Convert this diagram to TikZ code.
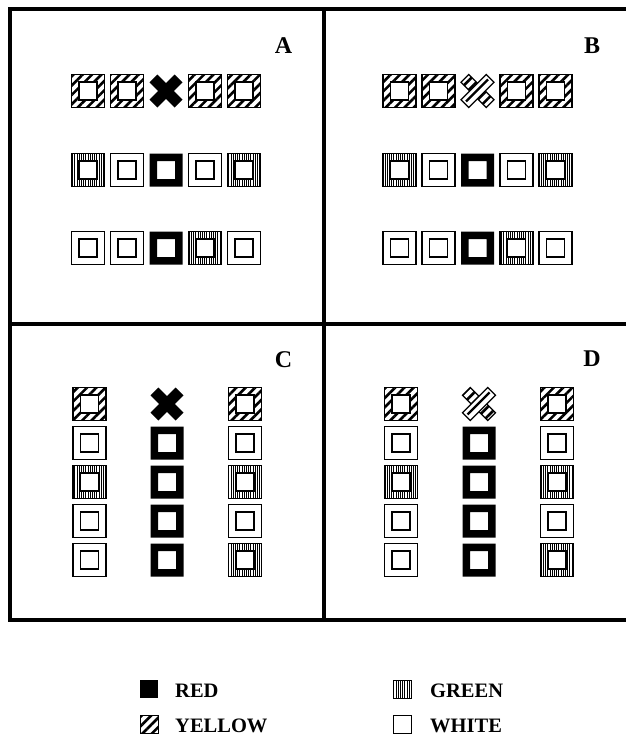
\documentclass[tikz,border=0pt]{standalone}
\usepackage{fontspec}
\setmainfont{Liberation Serif}
\usetikzlibrary{patterns.meta}
\tikzset{
  edge/.style={line width=1.2pt},
  frame/.style={line width=4pt},
  yhatch/.style={pattern={Lines[angle=45,distance=6.6pt,line width=2.6pt]}},
  ghatch/.style={pattern={Lines[angle=90,distance=2.2pt,line width=0.8pt]}},
  panellabel/.style={font=\bfseries\fontsize{24}{24}\selectfont, anchor=base, inner sep=0pt},
  legendtext/.style={font=\bfseries\fontsize{20.5}{20.5}\selectfont, anchor=base west, inner sep=0pt},
  ysq/.pic={
    \path[yhatch,even odd rule] (-16.5,-16.5) rectangle (16.5,16.5) (-9,-9) rectangle (9,9);
    \draw[edge] (-16.5,-16.5) rectangle (16.5,16.5) (-9,-9) rectangle (9,9);},
  gsq/.pic={
    \path[ghatch,even odd rule] (-16.5,-16.5) rectangle (16.5,16.5) (-9,-9) rectangle (9,9);
    \draw[edge] (-16.5,-16.5) rectangle (16.5,16.5) (-9,-9) rectangle (9,9);},
  wsq/.pic={
    \draw[edge] (-16.5,-16.5) rectangle (16.5,16.5) (-9,-9) rectangle (9,9);},
  rsq/.pic={
    \fill[even odd rule] (-16.5,-16.5) rectangle (16.5,16.5) (-9,-9) rectangle (9,9);},
  rx/.pic={
    \fill (-8.7,-16.5) -- (16.5,8.7) -- (8.7,16.5) -- (-16.5,-8.7) -- cycle;
    \fill (8.7,-16.5) -- (16.5,-8.7) -- (-8.7,16.5) -- (-16.5,8.7) -- cycle;},
  yx/.pic={
    \path[yhatch] (-8.7,-16.5) -- (16.5,8.7) -- (8.7,16.5) -- (-16.5,-8.7) -- cycle;
    \draw[edge] (-8.7,-16.5) -- (16.5,8.7) -- (8.7,16.5) -- (-16.5,-8.7) -- cycle;
    \filldraw[edge,fill=white] (8.7,-16.5) -- (16.5,-8.7) -- (-8.7,16.5) -- (-16.5,8.7) -- cycle;
    \draw[line width=2.2pt] (-11.5,10.5) -- (10.5,-11.5);},
}
\begin{document}
\begin{tikzpicture}[x=1pt,y=-1pt]
\useasboundingbox (0,0) rectangle (625,736);
\fill[white] (0,0) rectangle (625,736);

% frame
\draw[frame] (10,9) rectangle (634,620);
\draw[frame] (324,9) -- (324,620);
\draw[frame] (10,324) -- (634,324);

% panel labels
\node[panellabel] (la) at (283.5,53) {A};
\node[panellabel] (lb) at (592,53) {B};
\node[panellabel] (lc) at (283.5,367) {C};
\node[panellabel] (ld) at (592,366) {D};

% Panel A
\pic at (88,91) {ysq};  \pic at (127,91) {ysq};  \pic at (166,91) {rx};
\pic at (205,91) {ysq}; \pic at (244,91) {ysq};
\pic at (88,170) {gsq}; \pic at (127,170) {wsq}; \pic at (166,170) {rsq};
\pic at (205,170) {wsq}; \pic at (244,170) {gsq};
\pic at (88,248) {wsq}; \pic at (127,248) {wsq}; \pic at (166,248) {rsq};
\pic at (205,248) {gsq}; \pic at (244,248) {wsq};

% Panel B
\pic at (399.5,91) {ysq}; \pic at (438.5,91) {ysq}; \pic at (477.5,91) {yx};
\pic at (516.5,91) {ysq}; \pic at (555.5,91) {ysq};
\pic at (399.5,170) {gsq}; \pic at (438.5,170) {wsq}; \pic at (477.5,170) {rsq};
\pic at (516.5,170) {wsq}; \pic at (555.5,170) {gsq};
\pic at (399.5,248) {wsq}; \pic at (438.5,248) {wsq}; \pic at (477.5,248) {rsq};
\pic at (516.5,248) {gsq}; \pic at (555.5,248) {wsq};

% Panel C
\pic at (89.5,404) {ysq}; \pic at (167,404) {rx};  \pic at (245,404) {ysq};
\pic at (89.5,443) {wsq}; \pic at (167,443) {rsq}; \pic at (245,443) {wsq};
\pic at (89.5,482) {gsq}; \pic at (167,482) {rsq}; \pic at (245,482) {gsq};
\pic at (89.5,521) {wsq}; \pic at (167,521) {rsq}; \pic at (245,521) {wsq};
\pic at (89.5,560) {wsq}; \pic at (167,560) {rsq}; \pic at (245,560) {gsq};

% Panel D
\pic at (401,404) {ysq}; \pic at (479,404) {yx};  \pic at (557,404) {ysq};
\pic at (401,443) {wsq}; \pic at (479,443) {rsq}; \pic at (557,443) {wsq};
\pic at (401,482) {gsq}; \pic at (479,482) {rsq}; \pic at (557,482) {gsq};
\pic at (401,521) {wsq}; \pic at (479,521) {rsq}; \pic at (557,521) {wsq};
\pic at (401,560) {wsq}; \pic at (479,560) {rsq}; \pic at (557,560) {gsq};

% legend
\fill (140,680) rectangle (158,698);
\node[legendtext] (tred) at (175,697) {RED};
\path[yhatch] (140,715) rectangle (158,733);
\draw[line width=1pt] (140,715) rectangle (158,733);
\node[legendtext] (tyellow) at (175,732) {YELLOW};
\path[ghatch] (393,680) rectangle (411,698);
\draw[line width=1pt] (393,680) rectangle (411,698);
\node[legendtext] (tgreen) at (430,697) {GREEN};
\draw[line width=1pt] (393,715) rectangle (411,733);
\node[legendtext] (twhite) at (430,732) {WHITE};
\end{tikzpicture}
\end{document}
